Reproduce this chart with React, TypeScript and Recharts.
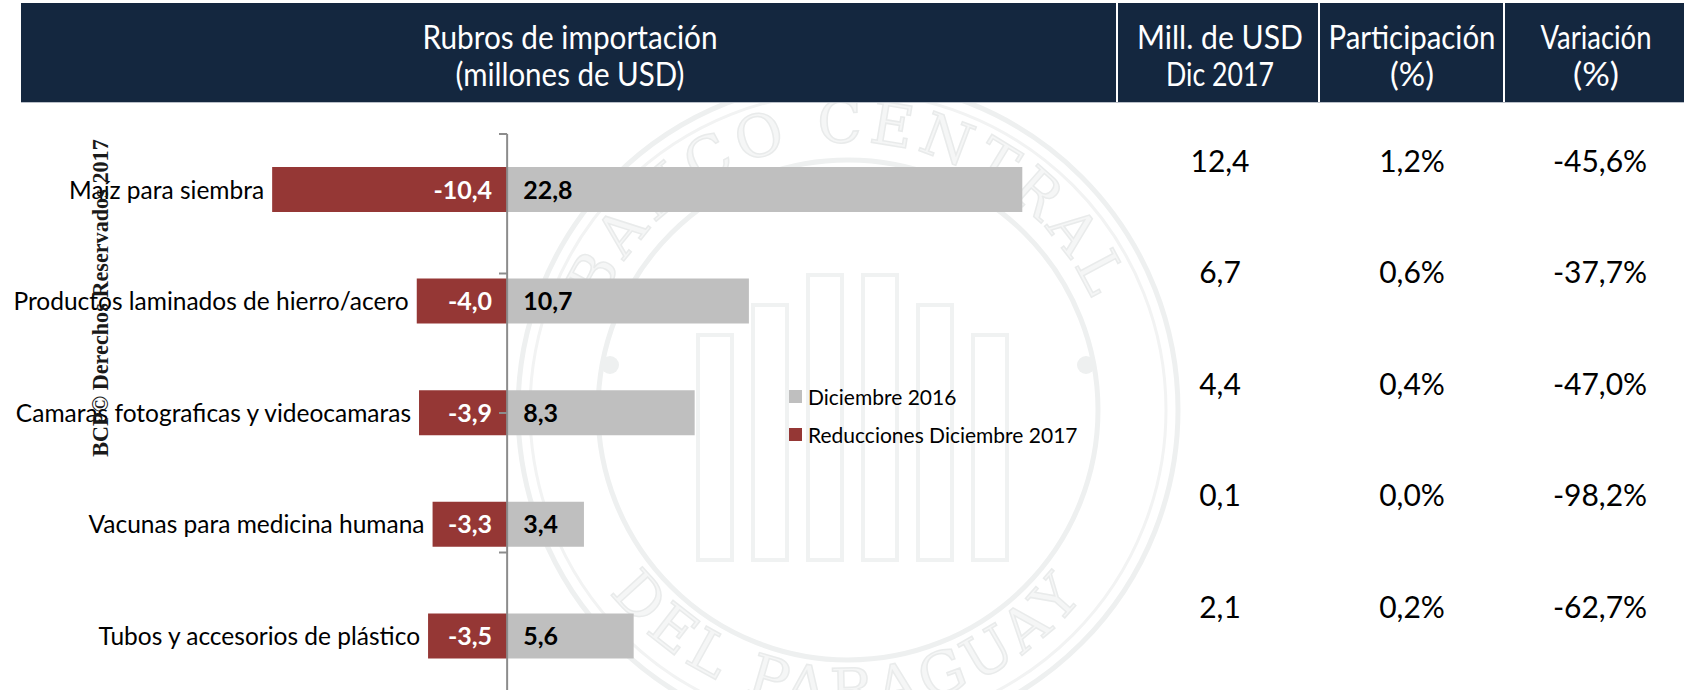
import React from 'react';
import { BarChart, Bar, XAxis, YAxis, ReferenceLine, LabelList } from 'recharts';

const categories = [
  'Maíz para siembra',
  'Productos laminados de hierro/acero',
  'Camaras fotograficas y videocamaras',
  'Vacunas para medicina humana',
  'Tubos y accesorios de plástico',
];
const diciembre2016 = [22.8, 10.7, 8.3, 3.4, 5.6];
const reducciones2017 = [-10.4, -4.0, -3.9, -3.3, -3.5];
const millDic2017 = [12.4, 6.7, 4.4, 0.1, 2.1];
const participacion = [1.2, 0.6, 0.4, 0.0, 0.2];
const variacion = [-45.6, -37.7, -47.0, -98.2, -62.7];
const bandBoundaries = [0, 1, 2, 3, 4, 5];
const seriesNames = ['Diciembre 2016', 'Reducciones Diciembre 2017'];
const headerTitle = ['Rubros de importación', '(millones de USD)'];
const headerMill = ['Mill. de USD', 'Dic 2017'];
const headerPart = ['Participación', '(%)'];
const headerVar = ['Variación', '(%)'];
const sealTop = 'BANCO CENTRAL';
const sealBottom = 'DEL PARAGUAY';
const copyright = 'BCP© Derechos Reservados 2017';

const FONT = "Lato, 'Open Sans', sans-serif";
const RED = '#953735';
const GRAY = '#bfbfbf';
const NAVY = '#14273f';
const seriesColors = [GRAY, RED];

const fmt = (v: number) => v.toFixed(1).replace('.', ',');

const data = categories.map((name, i) => ({
  name,
  dic2016: diciembre2016[i],
  red: reducciones2017[i],
  mill: fmt(millDic2017[i]),
  part: fmt(participacion[i]) + '%',
  vari: fmt(variacion[i]) + '%',
}));

const box = (p: any) => {
  const vb = p.viewBox && p.viewBox.width !== undefined ? p.viewBox : p;
  const x = Number(vb.x);
  const w = Number(vb.width);
  const y = Number(vb.y);
  const h = Number(vb.height);
  return { left: Math.min(x, x + w), right: Math.max(x, x + w), cy: y + h / 2 };
};

const GrayValue = (p: any) => {
  const b = box(p);
  return (
    <text x={b.left + 16} y={b.cy + 9} fill="#000" fontFamily={FONT} fontWeight={700} fontSize={25}>
      {fmt(Number(p.value))}
    </text>
  );
};

const RedValue = (p: any) => {
  const b = box(p);
  return (
    <text x={b.right - 15} y={b.cy + 9} fill="#fff" textAnchor="end" fontFamily={FONT} fontWeight={700} fontSize={25}>
      {fmt(Number(p.value))}
    </text>
  );
};

const CategoryName = (p: any) => {
  const b = box(p);
  return (
    <text x={b.left - 8} y={b.cy + 9} fill="#000" textAnchor="end" fontFamily={FONT} fontSize={24.5}>
      {p.value}
    </text>
  );
};

const tableCell = (cx: number) => (p: any) => {
  const b = box(p);
  return (
    <text x={cx} y={b.cy - 18} fill="#000" textAnchor="middle" fontFamily={FONT} fontSize={30}>
      {p.value}
    </text>
  );
};

const HeaderText = ({ lines, cx, lengths }: { lines: string[]; cx: number; lengths: number[] }) => (
  <>
    {lines.map((t, i) => (
      <text
        key={t + i}
        x={cx}
        y={i === 0 ? 49 : 86}
        textAnchor="middle"
        fill="#fff"
        fontFamily={FONT}
        fontSize={33}
        textLength={lengths[i]}
        lengthAdjust="spacingAndGlyphs"
      >
        {t}
      </text>
    ))}
  </>
);

const Seal = () => {
  const cx = 848;
  const cy = 410;
  return (
    <svg width={1684} height={690} style={{ position: 'absolute', left: 0, top: 0 }}>
      <defs>
        <path id="sealTop" d={`M ${cx - 268} ${cy} A 268 268 0 0 1 ${cx + 268} ${cy}`} />
        <path id="sealBottom" d={`M ${cx - 300} ${cy} A 300 300 0 0 0 ${cx + 300} ${cy}`} />
      </defs>
      <circle cx={cx} cy={cy} r={330} fill="none" stroke="#eef0f0" strokeWidth={5} />
      <circle cx={cx} cy={cy} r={318} fill="none" stroke="#f2f3f3" strokeWidth={3} />
      <circle cx={cx} cy={cy} r={250} fill="none" stroke="#eef0f0" strokeWidth={5} />
      <circle cx={cx + 238} cy={cy - 45} r={9} fill="#eef0f0" />
      <circle cx={cx - 238} cy={cy - 45} r={9} fill="#eef0f0" />
      <text fontFamily="'DejaVu Serif', serif" fontSize={58} fill="#f5f6f6" stroke="#e9ebeb" strokeWidth={1.5} letterSpacing={6}>
        <textPath href="#sealTop" startOffset="50%" textAnchor="middle">{sealTop}</textPath>
      </text>
      <text fontFamily="'DejaVu Serif', serif" fontSize={58} fill="#f5f6f6" stroke="#e9ebeb" strokeWidth={1.5} letterSpacing={6}>
        <textPath href="#sealBottom" startOffset="50%" textAnchor="middle">{sealBottom}</textPath>
      </text>
      {[0, 1, 2, 3, 4, 5].map((k) => (
        <rect key={k} x={cx - 150 + k * 55} y={cy - 150 + Math.abs(2.5 - k) * 30} width={34} height={300 - Math.abs(2.5 - k) * 30} fill="none" stroke="#f0f2f2" strokeWidth={4} />
      ))}
    </svg>
  );
};

const ChartLegend = () => (
  <div style={{ position: 'absolute', left: 789, top: 377, fontFamily: FONT, fontSize: 21, color: '#000' }}>
    {seriesNames.map((n, i) => (
      <div key={n} style={{ display: 'flex', alignItems: 'center', height: 38, whiteSpace: 'nowrap' }}>
        <span style={{ display: 'inline-block', width: 13, height: 13, background: seriesColors[i], marginRight: 6 }} />
        <span>{n}</span>
      </div>
    ))}
  </div>
);

export default function App() {
  return (
    <div style={{ position: 'absolute', left: 0, top: 0, width: 1684, height: 690, overflow: 'hidden', background: '#fff' }}>
      <Seal />
      <div style={{ position: 'absolute', left: 0, top: 0 }}>
        <BarChart
          width={1684}
          height={700}
          data={data}
          layout="vertical"
          stackOffset="sign"
          barSize={45}
          margin={{ top: 134, right: 612, bottom: 8, left: 236 }}
        >
          <XAxis type="number" domain={[-12, 25]} hide allowDataOverflow />
          <YAxis yAxisId="cat" type="category" dataKey="name" hide />
          <YAxis yAxisId="band" type="number" domain={[0, 5]} hide allowDataOverflow />
          <Bar yAxisId="cat" dataKey="dic2016" name={seriesNames[0]} stackId="s" fill={GRAY} isAnimationActive={false}>
            <LabelList dataKey="dic2016" content={GrayValue} />
            <LabelList dataKey="mill" content={tableCell(1220)} />
            <LabelList dataKey="part" content={tableCell(1412)} />
            <LabelList dataKey="vari" content={tableCell(1600)} />
          </Bar>
          <Bar yAxisId="cat" dataKey="red" name={seriesNames[1]} stackId="s" fill={RED} isAnimationActive={false}>
            <LabelList dataKey="red" content={RedValue} />
            <LabelList dataKey="name" content={CategoryName} />
          </Bar>
          <ReferenceLine yAxisId="band" x={0} stroke="#8c8c8c" strokeWidth={2} />
          {bandBoundaries.map((b) => (
            <ReferenceLine
              key={b}
              yAxisId="band"
              segment={[{ x: -0.36, y: b }, { x: 0, y: b }]}
              stroke="#8c8c8c"
              strokeWidth={2}
            />
          ))}
        </BarChart>
      </div>
      <ChartLegend />
      <svg width={1684} height={110} style={{ position: 'absolute', left: 0, top: 0 }}>
        <rect x={21} y={3} width={1663} height={99} fill={NAVY} />
        <line x1={21} x2={1684} y1={102.5} y2={102.5} stroke="#b9bfc8" strokeWidth={1} />
        {[1117, 1319, 1504].map((x) => (
          <line key={x} x1={x} x2={x} y1={3} y2={102} stroke="#fff" strokeWidth={2} />
        ))}
        <HeaderText lines={headerTitle} cx={570} lengths={[295, 229]} />
        <HeaderText lines={headerMill} cx={1220} lengths={[166, 108]} />
        <HeaderText lines={headerPart} cx={1412} lengths={[167, 44]} />
        <HeaderText lines={headerVar} cx={1596} lengths={[111, 46]} />
      </svg>
      <svg width={200} height={690} style={{ position: 'absolute', left: 0, top: 0, pointerEvents: 'none' }}>
        <text
          x={100}
          y={298}
          transform="rotate(-90 100 298)"
          textAnchor="middle"
          dominantBaseline="central"
          fontFamily="'Liberation Serif', 'DejaVu Serif', serif"
          fontWeight={700}
          fontSize={22.2}
          fill="#1a1a1a"
        >
          {copyright}
        </text>
      </svg>
    </div>
  );
}
